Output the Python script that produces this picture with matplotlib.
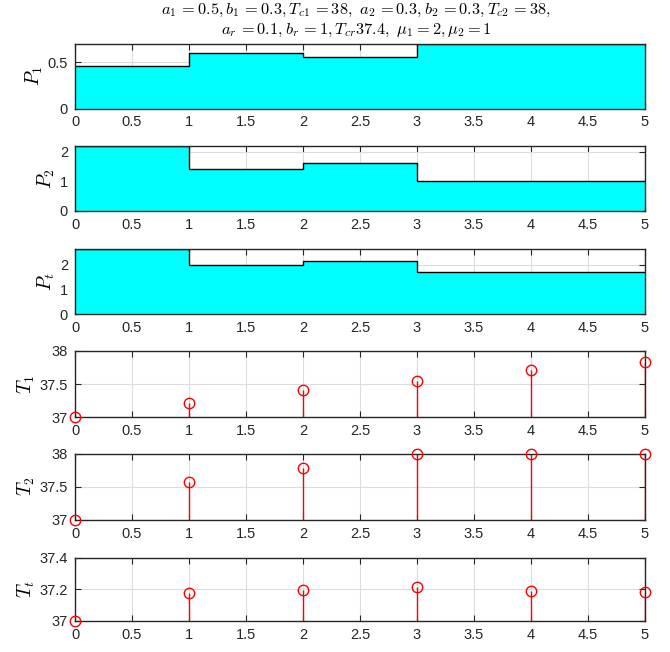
import numpy as np
import matplotlib
matplotlib.use('Agg')
from matplotlib import pyplot as plt

plt.rcParams['font.family'] = ['Liberation Sans', 'DejaVu Sans']
plt.rcParams['mathtext.fontset'] = 'cm'

t = [0, 1, 2, 3, 4, 5]
P1 = [0.46, 0.60, 0.56, 0.70, 0.70, 0.70]
P2 = [2.20, 1.40, 1.61, 1.00, 1.00, 1.00]
Pt = [2.66, 2.00, 2.17, 1.70, 1.70, 1.70]
T1 = [37.0, 37.21, 37.41, 37.545, 37.705, 37.826]
T2 = [37.0, 37.571, 37.788, 38.0, 38.0, 38.0]
Tt = [37.0, 37.174, 37.196, 37.215, 37.19, 37.18]

xticks = [0, 0.5, 1, 1.5, 2, 2.5, 3, 3.5, 4, 4.5, 5]
xticklabels = ['0', '0.5', '1', '1.5', '2', '2.5', '3', '3.5', '4', '4.5', '5']

W, H = 670, 652
fig = plt.figure(figsize=(W/100, H/100), dpi=100)

# (top, bottom) in pixels for each panel
boxes = [(44, 108.5), (145.7, 211), (248.7, 314), (350.7, 417.3), (453.7, 519.7), (557.5, 621)]
left, right = 75, 645

def make_ax(i):
	top, bot = boxes[i]
	ax = fig.add_axes([left/W, 1-bot/H, (right-left)/W, (bot-top)/H])
	ax.set_xlim(0, 5)
	ax.set_xticks(xticks)
	ax.set_xticklabels(xticklabels)
	ax.grid(True, color='#dcdcdc', linewidth=0.8)
	ax.set_axisbelow(True)
	ax.tick_params(direction='in', top=True, right=True, labelsize=10.5, length=4,
		color='#262626', labelcolor='#262626', pad=5)
	for s in ax.spines.values():
		s.set_color('#262626')
		s.set_linewidth(1.0)
		s.set_zorder(5)
	return ax

areas = [(P1, [0, 0.5], (0, 0.7), r'$P_1$'),
	(P2, [0, 1, 2], (0, 2.2), r'$P_2$'),
	(Pt, [0, 1, 2], (0, 2.66), r'$P_t$')]
for i, (p, yt, yl, lab) in enumerate(areas):
	ax = make_ax(i)
	ax.fill_between(t, p, 0, step='post', facecolor='cyan', edgecolor='none', zorder=2)
	ax.step(t, p, where='post', color='black', linewidth=1.0, zorder=3)
	ax.set_ylim(*yl)
	ax.set_yticks(yt)
	ax.set_yticklabels([str(v) for v in yt])
	ax.set_ylabel(lab, fontsize=14, labelpad=2)

stems = [(T1, [37, 37.5, 38], ['37', '37.5', '38'], (37, 38), r'$T_1$'),
	(T2, [37, 37.5, 38], ['37', '37.5', '38'], (37, 38), r'$T_2$'),
	(Tt, [37, 37.2, 37.4], ['37', '37.2', '37.4'], (37, 37.4), r'$T_t$')]
for j, (v, yt, ytl, yl, lab) in enumerate(stems):
	ax = make_ax(3 + j)
	ax.vlines(t, yl[0], v, color='red', linewidth=1.0, zorder=3)
	ax.plot(t, v, 'o', color='red', markerfacecolor='none', markersize=7.5,
		markeredgewidth=1.0, clip_on=False, zorder=6)
	ax.set_ylim(*yl)
	ax.set_yticks(yt)
	ax.set_yticklabels(ytl)
	ax.set_ylabel(lab, fontsize=14, labelpad=2)

fig.text(356/W, 1-10/H, r'$a_1\,{=}0.5, b_1\,{=}0.3, T_{c1}\,{=}38,\ a_2\,{=}0.3, b_2\,{=}0.3, T_{c2}\,{=}38,$',
	ha='center', va='center', fontsize=11.8)
fig.text(356/W, 1-30/H, r'$a_r\,{=}0.1, b_r\,{=}1, T_{cr}37.4,\ \mu_1 = 2, \mu_2 = 1$',
	ha='center', va='center', fontsize=11.8)

fig.savefig('out.png', dpi=100)
